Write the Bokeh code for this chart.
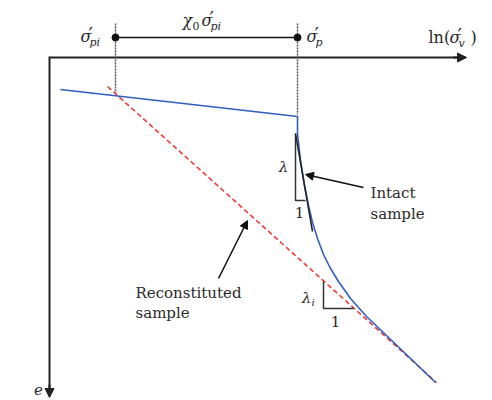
from bokeh.plotting import figure
from bokeh.models import Range1d, Label, Arrow, NormalHead
from bokeh.embed import file_html
from bokeh.resources import INLINE

# ---- schematic data (x: ln(sigma'_v) offset, y: drop in e below axis) ----
intact_ln = [11, 248, 248, 251, 255, 259, 263, 268, 274, 281, 289, 301, 317, 338, 360, 386]
intact_e = [32, 59, 76, 103, 128, 148, 165, 181, 197, 211, 224, 241, 259, 279, 300, 325]
recon_ln = [58, 387]
recon_e = [29, 325]
sigma_pi_ln = 66
sigma_p_ln = 248
# slope triangles: (x_left, y_top, y_bottom, x_right)
lam_tri = [246, 76, 143, 256]
lam_tangent_ln = [246, 263]
lam_tangent_e = [76, 174]
lami_tri = [274, 224, 251, 304]

TXT = "#2a2a2a"
FONT = "DejaVu Serif"

p = figure(width=492, height=400, x_range=Range1d(-49, 443), y_range=Range1d(343, -57),
           output_backend="svg", toolbar_location=None,
           x_axis_location=None, y_axis_location=None, min_border=0)
p.grid.visible = False
p.outline_line_color = None
p.background_fill_color = "white"
p.border_fill_color = "white"

AX = "#222222"
# main axes (L shape) with arrow heads
p.line([416, 0, 0], [0, 0, 334], line_color=AX, line_width=2, line_join="miter")
p.add_layout(Arrow(end=NormalHead(size=9, fill_color=AX, line_color=AX), line_color=AX,
                   line_width=2, x_start=404, y_start=0, x_end=417, y_end=0))
p.add_layout(Arrow(end=NormalHead(size=9, fill_color=AX, line_color=AX), line_color=AX,
                   line_width=2, x_start=0, y_start=327, x_end=0, y_end=340))

# dotted guides
p.line([sigma_pi_ln, sigma_pi_ln], [-34, 36], line_color="#555555", line_width=1.5, line_dash="2 1")
p.line([sigma_p_ln, sigma_p_ln], [-34, 57], line_color="#555555", line_width=1.5, line_dash="2 1")

# dimension line on top
p.line([sigma_pi_ln, sigma_p_ln], [-20, -20], line_color="#111111", line_width=1.5)
p.scatter([sigma_pi_ln, sigma_p_ln], [-20, -20], size=7, color="#111111")

# curves
p.line(recon_ln, recon_e, line_color="#ee3b3b", line_width=1.6, line_dash="5 3")
p.line(intact_ln, intact_e, line_color="#2f5fbf", line_width=1.6)

# slope triangle lambda
p.line([lam_tri[0], lam_tri[0], lam_tri[3]], [lam_tri[1], lam_tri[2], lam_tri[2]],
       line_color="#333333", line_width=1.5)
p.line(lam_tangent_ln, lam_tangent_e, line_color="#222222", line_width=1.5)
# slope triangle lambda_i
p.line([lami_tri[0], lami_tri[0], lami_tri[3]], [lami_tri[1], lami_tri[2], lami_tri[2]],
       line_color="#333333", line_width=1.5)

# pointer arrows
p.add_layout(Arrow(end=NormalHead(size=8, fill_color="#111111", line_color="#111111"),
                   line_color="#111111", line_width=1.5,
                   x_start=314, y_start=130, x_end=256, y_end=117))
p.add_layout(Arrow(end=NormalHead(size=8, fill_color="#111111", line_color="#111111"),
                   line_color="#111111", line_width=1.5,
                   x_start=169, y_start=221, x_end=198, y_end=163))


def label(x, y, text, size=15, style="normal", align="left", font=FONT):
    p.add_layout(Label(x=x, y=y, text=text, text_font=font, text_font_size=f"{size}px",
                       text_font_style=style, text_align=align, text_baseline="middle",
                       text_color=TXT))


def sigma(x, y, sub):
    label(x, y, "σ", 16, "italic")
    label(x + 8, y - 3, "′", 20, "normal", font="DejaVu Sans")
    label(x + 9, y + 6, sub, 11, "italic")


# top labels
sigma(31, -21, "pi")
label(133, -37, "χ", 16, "italic")
label(143, -32, "0", 11)
sigma(152, -37, "pi")
sigma(257, -21, "p")
label(379, -20, "ln(", 16)
sigma(400, -20, "v")
label(421, -20, ")", 16)

# slope labels
label(234, 109, "λ", 15, "italic", "center")
label(250, 155, "1", 15, "normal", "center")
label(257, 240, "λ", 15, "italic", "center")
label(262, 245, "i", 10, "italic")
label(286, 264, "1", 15, "normal", "center")

# axis label
label(-11, 332, "e", 15, "italic", "center")

# annotations
label(321, 135, "Intact", 15)
label(321, 156, "sample", 15)
label(86, 235, "Reconstituted", 15)
label(86, 255, "sample", 15)

open("out.html", "w").write(file_html(p, INLINE))
